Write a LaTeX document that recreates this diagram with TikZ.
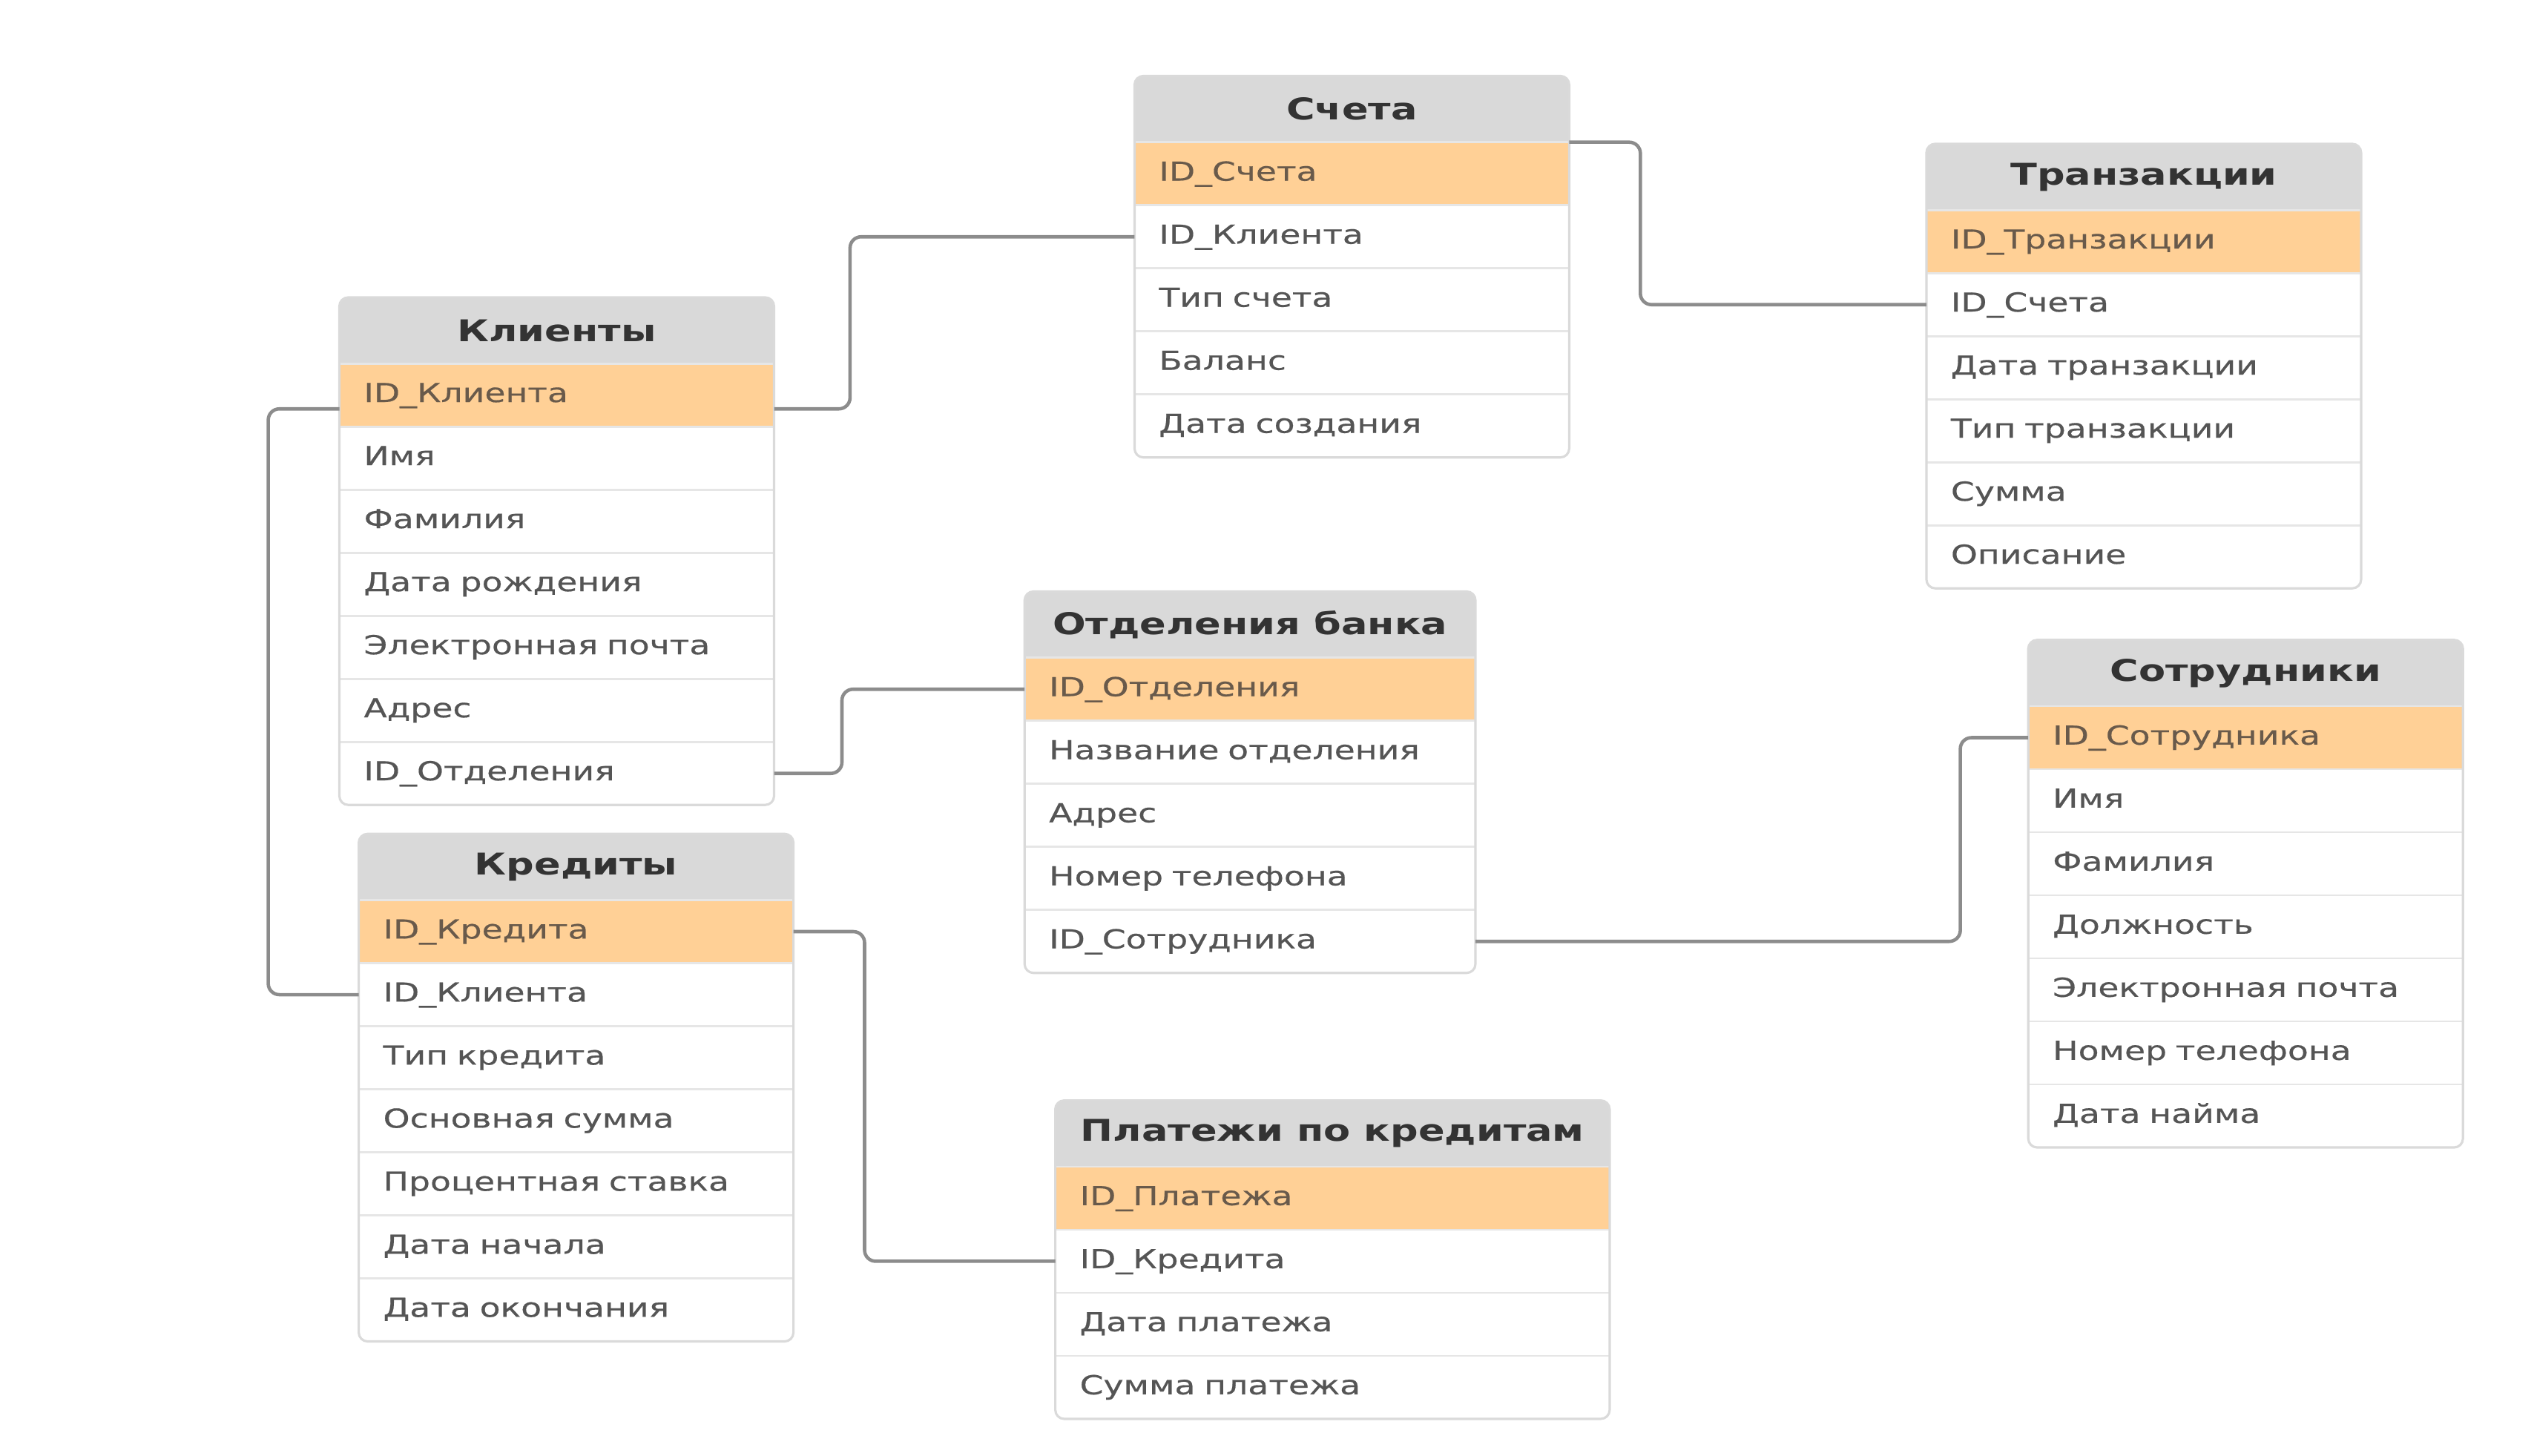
\documentclass[tikz,border=0pt]{standalone}
\usepackage{fontspec}
\setmainfont{DejaVu Sans}[FakeStretch=1.3, UprightFeatures={FakeBold=0.5}]
\usepackage{tikz}
\usetikzlibrary{positioning}
\usetikzlibrary{backgrounds}
\definecolor{headfill}{RGB}{217,217,217}
\definecolor{keyfill}{RGB}{255,208,150}
\definecolor{tabline}{RGB}{218,218,218}
\definecolor{sepline}{RGB}{230,230,230}
\definecolor{fieldtext}{RGB}{85,85,85}
\definecolor{keytext}{RGB}{105,90,75}
\definecolor{headtext}{RGB}{51,51,51}
\definecolor{linkgray}{RGB}{140,140,140}
\tikzset{
tabhead/.style={minimum width=#1, minimum height=0.893cm, inner sep=0pt, outer sep=0pt, font=\fontsize{11.5}{13}\selectfont\bfseries, text=headtext},
tabrow/.style 2 args={minimum width=#1, text width=#2, minimum height=0.85cm, inner xsep=0.33cm, inner ysep=0pt, outer sep=0pt, align=left, font=\fontsize{10}{12}\selectfont, text height=0.75em, text depth=0.22em},
tabframe/.style={draw=tabline, line width=0.9pt, rounded corners=0.12cm},
link/.style={draw=linkgray, line width=1.3pt, rounded corners=0.15cm}
}

\begin{document}
\begin{tikzpicture}
\useasboundingbox (0,0) rectangle (34.16,-19.62);

% Клиенты
\node (kl0) at (4.575,-4.009) [tabhead=5.86cm, anchor=north west] {Клиенты};
\foreach \f [count=\i] in {ID\_Клиента, Имя, Фамилия, Дата рождения, Электронная почта, Адрес, ID\_Отделения} {
\pgfmathtruncatemacro\j{\i-1}
\ifnum\i=1 \def\rowfill{keyfill}\def\rowtext{keytext}\else\def\rowfill{white}\def\rowtext{fieldtext}\fi
\node (kl\i) [tabrow={5.86cm}{5.2cm}, below=0pt of kl\j, fill=\rowfill, text=\rowtext] {\f};
\draw[sepline, line width=0.8pt] (kl\i.north west) -- (kl\i.north east);
}
\draw[tabframe] (kl0.north west) rectangle (kl7.south east);
\begin{scope}[on background layer]
\fill[headfill, rounded corners=0.12cm] (kl0.north west) rectangle (kl7.south east);
\end{scope}

% Счета
\node (sc0) at (15.294,-1.024) [tabhead=5.86cm, anchor=north west] {Счета};
\foreach \f [count=\i] in {ID\_Счета, ID\_Клиента, Тип счета, Баланс, Дата создания} {
\pgfmathtruncatemacro\j{\i-1}
\ifnum\i=1 \def\rowfill{keyfill}\def\rowtext{keytext}\else\def\rowfill{white}\def\rowtext{fieldtext}\fi
\node (sc\i) [tabrow={5.86cm}{5.2cm}, below=0pt of sc\j, fill=\rowfill, text=\rowtext] {\f};
\draw[sepline, line width=0.8pt] (sc\i.north west) -- (sc\i.north east);
}
\draw[tabframe] (sc0.north west) rectangle (sc5.south east);
\begin{scope}[on background layer]
\fill[headfill, rounded corners=0.12cm] (sc0.north west) rectangle (sc5.south east);
\end{scope}

% Транзакции
\node (tr0) at (25.969,-1.939) [tabhead=5.86cm, anchor=north west] {Транзакции};
\foreach \f [count=\i] in {ID\_Транзакции, ID\_Счета, Дата транзакции, Тип транзакции, Сумма, Описание} {
\pgfmathtruncatemacro\j{\i-1}
\ifnum\i=1 \def\rowfill{keyfill}\def\rowtext{keytext}\else\def\rowfill{white}\def\rowtext{fieldtext}\fi
\node (tr\i) [tabrow={5.86cm}{5.2cm}, below=0pt of tr\j, fill=\rowfill, text=\rowtext] {\f};
\draw[sepline, line width=0.8pt] (tr\i.north west) -- (tr\i.north east);
}
\draw[tabframe] (tr0.north west) rectangle (tr6.south east);
\begin{scope}[on background layer]
\fill[headfill, rounded corners=0.12cm] (tr0.north west) rectangle (tr6.south east);
\end{scope}

% Отделения банка
\node (ot0) at (13.812,-7.974) [tabhead=6.078cm, anchor=north west] {Отделения банка};
\foreach \f [count=\i] in {ID\_Отделения, Название отделения, Адрес, Номер телефона, ID\_Сотрудника} {
\pgfmathtruncatemacro\j{\i-1}
\ifnum\i=1 \def\rowfill{keyfill}\def\rowtext{keytext}\else\def\rowfill{white}\def\rowtext{fieldtext}\fi
\node (ot\i) [tabrow={6.078cm}{5.418cm}, below=0pt of ot\j, fill=\rowfill, text=\rowtext] {\f};
\draw[sepline, line width=0.8pt] (ot\i.north west) -- (ot\i.north east);
}
\draw[tabframe] (ot0.north west) rectangle (ot5.south east);
\begin{scope}[on background layer]
\fill[headfill, rounded corners=0.12cm] (ot0.north west) rectangle (ot5.south east);
\end{scope}

% Сотрудники
\node (so0) at (27.342,-8.627) [tabhead=5.86cm, anchor=north west] {Сотрудники};
\foreach \f [count=\i] in {ID\_Сотрудника, Имя, Фамилия, Должность, Электронная почта, Номер телефона, Дата найма} {
\pgfmathtruncatemacro\j{\i-1}
\ifnum\i=1 \def\rowfill{keyfill}\def\rowtext{keytext}\else\def\rowfill{white}\def\rowtext{fieldtext}\fi
\node (so\i) [tabrow={5.86cm}{5.2cm}, below=0pt of so\j, fill=\rowfill, text=\rowtext] {\f};
\draw[sepline, line width=0.8pt] (so\i.north west) -- (so\i.north east);
}
\draw[tabframe] (so0.north west) rectangle (so7.south east);
\begin{scope}[on background layer]
\fill[headfill, rounded corners=0.12cm] (so0.north west) rectangle (so7.south east);
\end{scope}

% Кредиты
\node (kr0) at (4.836,-11.242) [tabhead=5.86cm, anchor=north west] {Кредиты};
\foreach \f [count=\i] in {ID\_Кредита, ID\_Клиента, Тип кредита, Основная сумма, Процентная ставка, Дата начала, Дата окончания} {
\pgfmathtruncatemacro\j{\i-1}
\ifnum\i=1 \def\rowfill{keyfill}\def\rowtext{keytext}\else\def\rowfill{white}\def\rowtext{fieldtext}\fi
\node (kr\i) [tabrow={5.86cm}{5.2cm}, below=0pt of kr\j, fill=\rowfill, text=\rowtext] {\f};
\draw[sepline, line width=0.8pt] (kr\i.north west) -- (kr\i.north east);
}
\draw[tabframe] (kr0.north west) rectangle (kr7.south east);
\begin{scope}[on background layer]
\fill[headfill, rounded corners=0.12cm] (kr0.north west) rectangle (kr7.south east);
\end{scope}

% Платежи по кредитам
\node (pl0) at (14.226,-14.836) [tabhead=7.473cm, anchor=north west] {Платежи по кредитам};
\foreach \f [count=\i] in {ID\_Платежа, ID\_Кредита, Дата платежа, Сумма платежа} {
\pgfmathtruncatemacro\j{\i-1}
\ifnum\i=1 \def\rowfill{keyfill}\def\rowtext{keytext}\else\def\rowfill{white}\def\rowtext{fieldtext}\fi
\node (pl\i) [tabrow={7.473cm}{6.813cm}, below=0pt of pl\j, fill=\rowfill, text=\rowtext] {\f};
\draw[sepline, line width=0.8pt] (pl\i.north west) -- (pl\i.north east);
}
\draw[tabframe] (pl0.north west) rectangle (pl4.south east);
\begin{scope}[on background layer]
\fill[headfill, rounded corners=0.12cm] (pl0.north west) rectangle (pl4.south east);
\end{scope}

% связи
\draw[link] ([yshift=-0.185cm]kl1.east) -- ++(1.024,0) |- (sc2.west);
\draw[link] (sc1.north east) -- ++(0.959,0) |- (tr2.west);
\draw[link] (kl7.east) -- ++(0.915,0) |- (ot1.west);
\draw[link] ([yshift=-0.185cm]kl1.west) -- ++(-0.959,0) |- (kr2.west);
\draw[link] (kr1.east) -- ++(0.959,0) |- (pl2.west);
\draw[link] (ot5.east) -- ++(6.536,0) |- (so1.west);
\end{tikzpicture}
\end{document}
